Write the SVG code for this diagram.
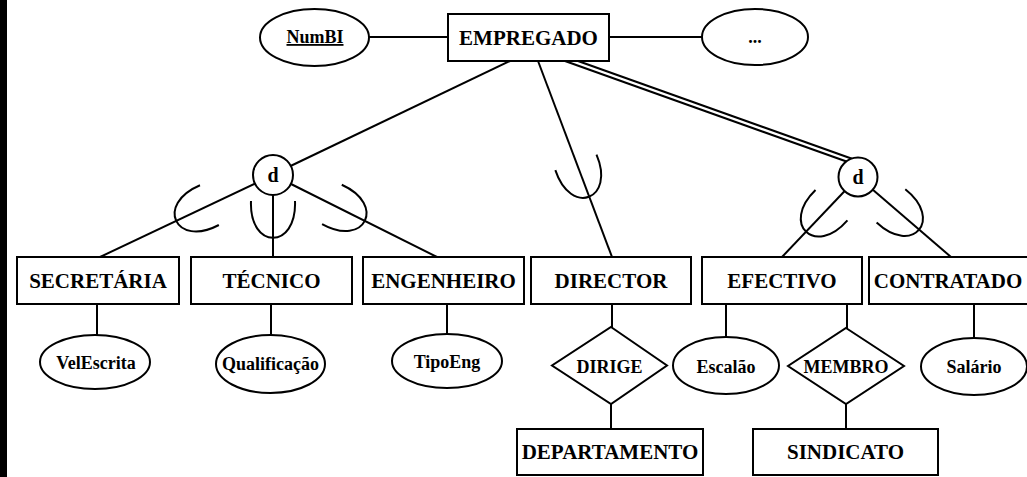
<svg xmlns="http://www.w3.org/2000/svg" xmlns:xlink="http://www.w3.org/1999/xlink" width="1027" height="477" viewBox="0 0 1027 477">
<style>
  .shape { fill: #ffffff; stroke: #000000; stroke-width: 2; }
  .ln { fill: none; stroke: #000000; stroke-width: 2; }
  .lbl { font-family: "Liberation Serif", "Times New Roman", serif; font-weight: bold; font-size: 21px; text-anchor: middle; fill: #000000; }
  .att { font-family: "Liberation Serif", "Times New Roman", serif; font-weight: bold; font-size: 18px; text-anchor: middle; fill: #000000; }
  .dl { font-family: "Liberation Serif", "Times New Roman", serif; font-weight: bold; font-size: 20px; text-anchor: middle; fill: #000000; }
</style>
<defs>
  <path id="subarc" d="M 37 -22 C -12 -24 -12 24 37 22" fill="none" stroke="#000000" stroke-width="2"/>
</defs>
<rect x="0" y="0" width="1027" height="477" fill="#ffffff"/>
<rect x="0" y="0" width="7" height="477" fill="#000000"/>

<g id="connectors">
  <line class="ln" x1="369" y1="37" x2="448" y2="37"/>
  <line class="ln" x1="609" y1="37" x2="702" y2="37"/>
  <line class="ln" x1="510" y1="61" x2="278" y2="172"/>
  <line class="ln" x1="538" y1="61" x2="612" y2="257"/>
  <line class="ln" x1="565" y1="61" x2="850" y2="162.8"/>
  <line class="ln" x1="578" y1="61" x2="852" y2="158.8"/>
  <line class="ln" x1="273" y1="175" x2="100" y2="257"/>
  <line class="ln" x1="273" y1="175" x2="273" y2="257"/>
  <line class="ln" x1="273" y1="175" x2="437" y2="257"/>
  <line class="ln" x1="858" y1="177" x2="782" y2="257"/>
  <line class="ln" x1="858" y1="177" x2="951" y2="257"/>
  <line class="ln" x1="97" y1="304" x2="97" y2="335"/>
  <line class="ln" x1="271" y1="304" x2="271" y2="335"/>
  <line class="ln" x1="447" y1="304" x2="447" y2="334"/>
  <line class="ln" x1="612" y1="304" x2="612" y2="328"/>
  <line class="ln" x1="611" y1="403" x2="611" y2="429"/>
  <line class="ln" x1="726" y1="304" x2="726" y2="337"/>
  <line class="ln" x1="847" y1="304" x2="847" y2="329"/>
  <line class="ln" x1="846" y1="403" x2="846" y2="429"/>
  <line class="ln" x1="974" y1="304" x2="974" y2="338"/>
  <use xlink:href="#subarc" transform="translate(176,221) rotate(-25.4)"/>
  <use xlink:href="#subarc" transform="translate(273,238) rotate(-90)"/>
  <use xlink:href="#subarc" transform="translate(365,221) rotate(-153.4)"/>
  <use xlink:href="#subarc" transform="translate(589,197) rotate(-110.7)"/>
  <use xlink:href="#subarc" transform="translate(806,232) rotate(-46.5)"/>
  <use xlink:href="#subarc" transform="translate(919,230) rotate(-139.3)"/>
</g>

<g id="empregado">
  <rect class="shape" x="448" y="14" width="161" height="47"/>
  <text class="lbl" x="528.5" y="45">EMPREGADO</text>
</g>
<g id="numbi">
  <ellipse class="shape" cx="314.5" cy="37.5" rx="54.5" ry="28.5"/>
  <text class="att" x="315" y="43" text-decoration="underline">NumBI</text>
</g>
<g id="etc">
  <ellipse class="shape" cx="755" cy="37" rx="53" ry="28"/>
  <text class="att" x="755" y="43">...</text>
</g>
<g id="d1">
  <circle class="shape" cx="273" cy="175" r="20"/>
  <text class="dl" x="273" y="182">d</text>
</g>
<g id="d2">
  <circle class="shape" cx="858" cy="177" r="19.5"/>
  <text class="dl" x="858" y="184">d</text>
</g>
<g id="secretaria">
  <rect class="shape" x="17" y="257" width="162" height="47"/>
  <text class="lbl" x="98" y="288">SECRETÁRIA</text>
</g>
<g id="tecnico">
  <rect class="shape" x="191" y="257" width="161" height="47"/>
  <text class="lbl" x="271.5" y="288">TÉCNICO</text>
</g>
<g id="engenheiro">
  <rect class="shape" x="363" y="257" width="161" height="47"/>
  <text class="lbl" x="443.5" y="288">ENGENHEIRO</text>
</g>
<g id="director">
  <rect class="shape" x="531" y="257" width="160" height="47"/>
  <text class="lbl" x="611" y="288">DIRECTOR</text>
</g>
<g id="efectivo">
  <rect class="shape" x="702" y="257" width="160" height="47"/>
  <text class="lbl" x="782" y="288">EFECTIVO</text>
</g>
<g id="contratado">
  <rect class="shape" x="869" y="257" width="161" height="47"/>
  <text class="lbl" x="948" y="288">CONTRATADO</text>
</g>
<g id="velescrita">
  <ellipse class="shape" cx="95" cy="362" rx="55" ry="27"/>
  <text class="att" x="96" y="368.5">VelEscrita</text>
</g>
<g id="qualificacao">
  <ellipse class="shape" cx="270.5" cy="364" rx="54.5" ry="29"/>
  <text class="att" x="270.5" y="369.5">Qualificação</text>
</g>
<g id="tipoeng">
  <ellipse class="shape" cx="447" cy="361" rx="55" ry="27"/>
  <text class="att" x="447" y="368">TipoEng</text>
</g>
<g id="dirige">
  <polygon class="shape" points="611,327 667,365.5 611,404 552,365.5"/>
  <text class="att" x="609.5" y="372.5">DIRIGE</text>
</g>
<g id="departamento">
  <rect class="shape" x="517" y="429" width="186" height="46"/>
  <text class="lbl" x="610" y="459">DEPARTAMENTO</text>
</g>
<g id="escalao">
  <ellipse class="shape" cx="726" cy="365.5" rx="53" ry="28.5"/>
  <text class="att" x="726" y="372.5">Escalão</text>
</g>
<g id="membro">
  <polygon class="shape" points="846,328 904,366 846,404 788,366"/>
  <text class="att" x="846" y="372.5">MEMBRO</text>
</g>
<g id="sindicato">
  <rect class="shape" x="753" y="429" width="185" height="46"/>
  <text class="lbl" x="845.5" y="459">SINDICATO</text>
</g>
<g id="salario">
  <ellipse class="shape" cx="974" cy="366.5" rx="53" ry="28.5"/>
  <text class="att" x="974" y="372.5">Salário</text>
</g>
</svg>
